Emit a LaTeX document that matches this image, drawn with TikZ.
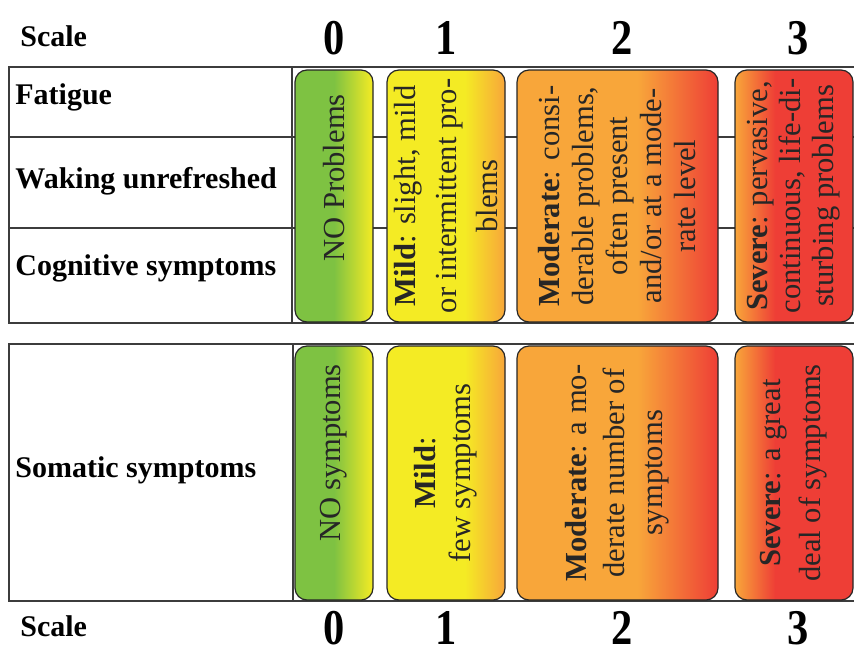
\documentclass[tikz,border=0pt]{standalone}
\usepackage{fontspec}
\setmainfont{Liberation Serif}
\usetikzlibrary{shapes,positioning}
\definecolor{fmgreen}{RGB}{126,194,66}
\definecolor{fmyellow}{RGB}{244,235,36}
\definecolor{fmorange}{RGB}{248,166,58}
\definecolor{fmred}{RGB}{238,62,54}
\definecolor{fmline}{RGB}{60,60,60}
\newcommand{\framew}{0.8pt}
\newcommand{\boxr}{6pt}
\pgfdeclarehorizontalshading{shzero}{100bp}{color(0bp)=(fmgreen); color(50bp)=(fmgreen); color(75bp)=(fmyellow); color(100bp)=(fmyellow)}
\pgfdeclarehorizontalshading{shone}{100bp}{color(0bp)=(fmyellow); color(58bp)=(fmyellow); color(75bp)=(fmorange); color(100bp)=(fmorange)}
\pgfdeclarehorizontalshading{shtwo}{100bp}{color(0bp)=(fmorange); color(55bp)=(fmorange); color(75bp)=(fmred); color(100bp)=(fmred)}
\pgfdeclarehorizontalshading{shthree}{100bp}{color(0bp)=(fmorange); color(25bp)=(fmorange); color(42bp)=(fmred); color(100bp)=(fmred)}

\begin{document}
\begin{tikzpicture}[x=0.5pt,y=-0.5pt]
            \useasboundingbox (0,0) rectangle (854,653);
            \tikzset{frame/.style = {draw=fmline, line width=\framew},
                     sbox/.style = {draw=black!85, line width=0.6pt, rounded corners=\boxr, inner sep=0pt},
                     boxtext/.style = {rotate=90, align=center, text=black!85, inner sep=0pt,
                                       font=\fontsize{15.3}{#1}\selectfont},
                     boxtext/.default = 17.5pt,
                     rowlabel/.style = {anchor=west, inner sep=0pt, font=\fontsize{15}{18}\selectfont\bfseries},
                     scalenum/.style = {inner sep=0pt, xscale=0.85, font=\fontsize{25}{28}\selectfont\bfseries}}
            % scale headings
            \node[rowlabel] (scaletop) at (20,36) {Scale};
            \node[scalenum] (numtopzero) at (334,38) {0};
            \node[scalenum] (numtopone) at (446,38) {1};
            \node[scalenum] (numtoptwo) at (622,38) {2};
            \node[scalenum] (numtopthree) at (798,38) {3};
            \node[rowlabel] (scalebot) at (20,626) {Scale};
            \node[scalenum] (numbotzero) at (334,628) {0};
            \node[scalenum] (numbotone) at (446,628) {1};
            \node[scalenum] (numbottwo) at (622,628) {2};
            \node[scalenum] (numbotthree) at (798,628) {3};
            % upper table
            \draw[frame] (854,67) -- (9,67) -- (9,323) -- (854,323);
            \draw[frame] (292,67) -- (292,323);
            \draw[frame] (9,137) -- (854,137);
            \draw[frame] (9,228) -- (854,228);
            \node[rowlabel] (fatigue) at (15,97) {Fatigue};
            \node[rowlabel] (waking) at (15,181) {Waking unrefreshed};
            \node[rowlabel] (cognitive) at (15,268) {Cognitive symptoms};
            % lower table
            \draw[frame] (854,344) -- (9,344) -- (9,601) -- (854,601);
            \draw[frame] (293,344) -- (293,601);
            \node[rowlabel] (somatic) at (15,470) {Somatic symptoms};
            % upper boxes
            \node[sbox, shading=shzero, minimum width=39pt, minimum height=126pt] (topzero) at (334,196) {};
            \node[sbox, shading=shone, minimum width=59pt, minimum height=126pt] (topone) at (446,196) {};
            \node[sbox, shading=shtwo, minimum width=100.5pt, minimum height=126pt] (toptwo) at (617.5,196) {};
            \node[sbox, shading=shthree, minimum width=59pt, minimum height=126pt] (topthree) at (794,196) {};
            \node[boxtext] (topzerotext) at ([yshift=9pt]topzero.center) {NO Problems};
            \node[boxtext=20.5pt] (toponetext) at (topone) {\textbf{Mild}: slight, mild\\or intermittent pro-\\blems};
            \node[boxtext=17pt] (toptwotext) at (toptwo) {\textbf{Moderate}: consi-\\derable problems,\\often present\\and/or at a mode-\\rate level};
            \node[boxtext=16.5pt] (topthreetext) at (topthree) {\textbf{Severe}: pervasive,\\continuous, life-di-\\sturbing problems};
            % lower boxes
            \node[sbox, shading=shzero, minimum width=39pt, minimum height=127pt] (botzero) at (334,473) {};
            \node[sbox, shading=shone, minimum width=59pt, minimum height=127pt] (botone) at (446,473) {};
            \node[sbox, shading=shtwo, minimum width=100.5pt, minimum height=127pt] (bottwo) at (617.5,473) {};
            \node[sbox, shading=shthree, minimum width=59pt, minimum height=127pt] (botthree) at (794,473) {};
            \node[boxtext] (botzerotext) at ([yshift=10pt]botzero.center) {NO symptoms};
            \node[boxtext=17.5pt] (botonetext) at (botone) {\textbf{Mild}:\\few symptoms};
            \node[boxtext=19pt] (bottwotext) at (bottwo) {\textbf{Moderate}: a mo-\\derate number of\\symptoms};
            \node[boxtext=20pt] (botthreetext) at (botthree) {\textbf{Severe}: a great\\deal of symptoms};
        \end{tikzpicture}
\end{document}
